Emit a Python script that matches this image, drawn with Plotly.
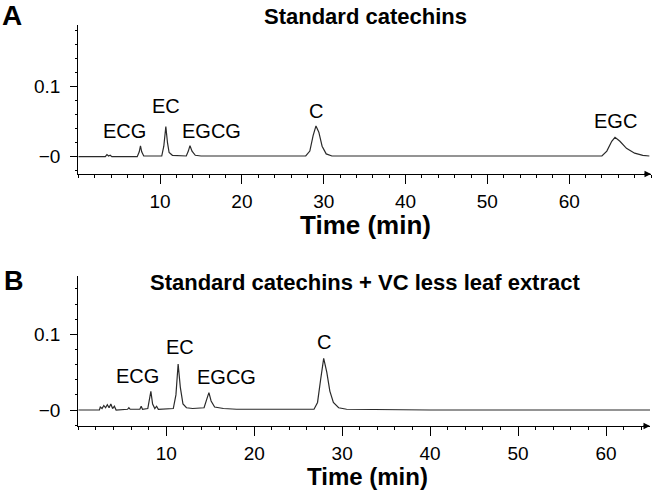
import plotly.graph_objects as go

# ---- Data ----
time_a = [0, 3.3, 3.5, 3.7, 3.9, 4.1, 7.2, 7.45, 7.6, 7.75, 8.0, 10.2, 10.45, 10.7, 10.9, 11.1, 11.5,
          13.2, 13.45, 13.65, 13.9, 14.3, 15, 27.8, 28.3, 28.7, 29.05, 29.4, 29.8, 30.3, 31,
          64, 64.6, 65.2, 65.6, 66.2, 67, 68, 69, 69.8]
abs_a = [0, 0, 0.003, 0.001, 0.002, 0, 0, 0.007, 0.0153, 0.007, 0.001, 0.001, 0.015, 0.043, 0.02, 0.006, 0.002,
         0.001, 0.008, 0.0157, 0.008, 0.002, 0.001, 0.001, 0.008, 0.03, 0.0439, 0.035, 0.015, 0.004, 0.001,
         0.001, 0.008, 0.022, 0.0277, 0.022, 0.012, 0.005, 0.002, 0.001]

time_b = [0, 2.4, 2.5, 2.7, 2.9, 3.1, 3.3, 3.5, 3.7, 3.9, 4.1, 4.3, 5.6, 5.75, 5.9, 7.0, 7.15, 7.3,
          7.9, 8.1, 8.25, 8.45, 8.7, 8.9, 9.1, 10.8, 11.1, 11.35, 11.6, 11.9, 12.3, 13.0,
          14.3, 14.6, 14.85, 15.1, 15.5, 16.5, 18, 26.8, 27.2, 27.55, 27.9, 28.25, 28.6, 29.0,
          29.6, 30.5, 40, 65]
abs_b = [0, 0, 0.004, 0.002, 0.006, 0.003, 0.007, 0.003, 0.008, 0.002, 0.005, 0, 0.001, 0.003, 0.001,
         0.001, 0.005, 0.001, 0.002, 0.015, 0.0247, 0.008, 0.002, 0.005, 0.001, 0.002, 0.02, 0.0608, 0.03,
         0.008, 0.003, 0.002, 0.003, 0.014, 0.0229, 0.012, 0.004, 0.002, 0.001, 0.001, 0.01, 0.04,
         0.0683, 0.05, 0.025, 0.01, 0.003, 0.001, 0, 0]

peak_names_a = ["ECG", "EC", "EGCG", "C", "EGC"]
label_x_a = [5.6, 10.7, 16.3, 29.0, 65.6]
label_y_a = [0.0367, 0.072, 0.037, 0.065, 0.051]

peak_names_b = ["ECG", "EC", "EGCG", "C"]
label_x_b = [6.7, 11.6, 16.8, 27.9]
label_y_b = [0.045, 0.083, 0.044, 0.090]

y_tickvals = [0, 0.1]
y_ticktext = ["\u22120", "0.1"]
x_tickvals = [10, 20, 30, 40, 50, 60]

title_a = "Standard catechins"
title_b = "Standard catechins + VC less leaf extract"
x_title = "Time (min)"

FONT = "Liberation Sans, Arial, sans-serif"
W, H = 653, 494

def fx(p):
    return p / W

def fy(p):
    return 1 - p / H

fig = go.Figure()
fig.add_trace(go.Scatter(x=time_a, y=abs_a, mode="lines", line=dict(color="#2a2a2a", width=1.2),
                         xaxis="x", yaxis="y", showlegend=False, hoverinfo="skip"))
fig.add_trace(go.Scatter(x=time_b, y=abs_b, mode="lines", line=dict(color="#2a2a2a", width=1.2),
                         xaxis="x2", yaxis="y2", showlegend=False, hoverinfo="skip"))

axis_common = dict(showline=True, linecolor="black", linewidth=1.4, showgrid=False, zeroline=False,
                   automargin=False, ticks="outside", tickcolor="black", tickwidth=1.2,
                   tickfont=dict(family=FONT, size=19, color="black"))

xmin = dict(ticks="outside", ticklen=2.5, dtick=2, tickcolor="black")
ymin = dict(ticks="outside", ticklen=2.5, dtick=0.02, tickcolor="black")

xa = dict(axis_common, range=[0, 70], tickvals=x_tickvals, ticklen=9, ticklabelstandoff=1, minor=xmin,
          domain=[fx(78.3), fx(651)], anchor="y")
ya = dict(axis_common, range=[-0.0247, 0.188], tickvals=y_tickvals, ticktext=y_ticktext, ticklen=7,
          ticklabelstandoff=6, minor=ymin, domain=[fy(174), fy(25)], anchor="x")
xb = dict(axis_common, range=[0, 65], tickvals=x_tickvals, ticklen=9, ticklabelstandoff=1, minor=xmin,
          domain=[fx(78.3), fx(650)], anchor="y2")
yb = dict(axis_common, range=[-0.0211, 0.1774], tickvals=y_tickvals, ticktext=y_ticktext, ticklen=7,
          ticklabelstandoff=6, minor=ymin, domain=[fy(426), fy(275.7)], anchor="x2")

annotations = []
lab_font = dict(family=FONT, size=20, color="black")
for n, x, y in zip(peak_names_a, label_x_a, label_y_a):
    annotations.append(dict(x=x, y=y, xref="x", yref="y", text=n, showarrow=False, font=lab_font,
                            xanchor="center", yanchor="middle"))
for n, x, y in zip(peak_names_b, label_x_b, label_y_b):
    annotations.append(dict(x=x, y=y, xref="x2", yref="y2", text=n, showarrow=False, font=lab_font,
                            xanchor="center", yanchor="middle"))

def paper_text(text, px, py, size):
    return dict(x=fx(px), y=fy(py), xref="paper", yref="paper", text="<b>" + text + "</b>",
                showarrow=False, xanchor="center", yanchor="middle",
                font=dict(family=FONT, color="black", size=size))

annotations += [
    paper_text(title_a, 365, 16.5, 22),
    paper_text(title_b, 365, 282.5, 22),
    paper_text(x_title, 365.5, 225, 26),
    paper_text(x_title, 367, 476, 24),
    paper_text("A", 12.5, 15, 28),
    paper_text("B", 13.5, 280.5, 27),
    # axis-end arrows
    dict(x=1.0, y=0, xref="x domain", yref="y domain", ax=-8, ay=0, text="", showarrow=True,
         arrowhead=2, arrowsize=1, arrowwidth=1.3, arrowcolor="black"),
    dict(x=1.0, y=0, xref="x2 domain", yref="y2 domain", ax=-8, ay=0, text="", showarrow=True,
         arrowhead=2, arrowsize=1, arrowwidth=1.3, arrowcolor="black"),
]

fig.update_layout(width=W, height=H, margin=dict(l=0, r=0, t=0, b=0, autoexpand=False),
                  paper_bgcolor="white", plot_bgcolor="white",
                  xaxis=xa, yaxis=ya, xaxis2=xb, yaxis2=yb, annotations=annotations,
                  font=dict(family=FONT))

# remove the browser's default 8px body margin so the figure sits at the page origin
fig.write_html("out.html", config={"displayModeBar": False},
               post_script="document.body.style.margin='0';document.body.style.overflow='hidden';")
